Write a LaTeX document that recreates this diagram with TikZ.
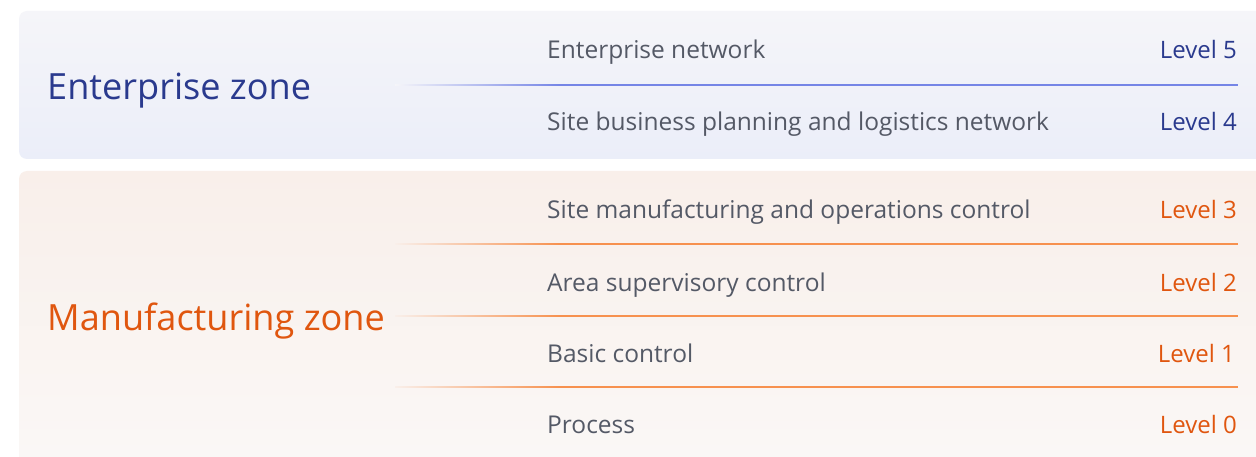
\documentclass[tikz,border=0pt]{standalone}
\usepackage{fontspec}
\setmainfont{Open Sans}
\usetikzlibrary{positioning}
\definecolor{entbgA}{HTML}{EBEEF9}
\definecolor{entbgB}{HTML}{F5F5F9}
\definecolor{manbgA}{HTML}{FAF8F7}
\definecolor{manbgB}{HTML}{F9EFEA}
\definecolor{entblue}{HTML}{2A3A8E}
\definecolor{manorange}{HTML}{E0560F}
\definecolor{rowgray}{HTML}{545966}
\definecolor{entline}{HTML}{7585E6}
\definecolor{manline}{HTML}{F7914F}
\tikzset{
  zonelabel/.style={anchor=base west,inner sep=0pt,font=\fontsize{36.1}{40}\selectfont},
  rowlabel/.style={anchor=base west,inner sep=0pt,text=rowgray,font=\fontsize{24.5}{28}\selectfont},
  levellabel/.style={anchor=base east,inner sep=0pt,font=\fontsize{24}{28}\selectfont},
}
\begin{document}
\begin{tikzpicture}[x=1pt,y=-1pt]
\useasboundingbox (0,0) rectangle (1256,457);
\clip (0,0) rectangle (1256,457);
\fill[white] (0,0) rectangle (1256,457);
% boxes
\shade[rounded corners=8pt, shading angle=200, top color=entbgB, bottom color=entbgA] (19,11) rectangle (1275,159);
\shade[rounded corners=8pt, shading angle=200, top color=manbgB, bottom color=manbgA] (19,171) rectangle (1275,480);
% zone labels
\node[zonelabel,text=entblue] (ent) at (47,99.5) {Enterprise zone};
\node[zonelabel,text=manorange] (man) at (47,330) {Manufacturing zone};
% dividers
\shade[left color=entbgB, right color=entline] (395,84.3) rectangle (560,85.7);
\fill[entline] (560,84.3) rectangle (1238,85.7);
\foreach \yy in {244,316,387}{
  \shade[left color=manbgB, right color=manline] (395,\yy-0.7) rectangle (560,\yy+0.7);
  \fill[manline] (560,\yy-0.7) rectangle (1238,\yy+0.7);
}
% rows
\node[rowlabel] (r5) at (547,59) {Enterprise network};
\node[rowlabel] (r4) at (547,131) {Site business planning and logistics network};
\node[rowlabel] (r3) at (547,219) {Site manufacturing and operations control};
\node[rowlabel] (r2) at (547,291) {Area supervisory control};
\node[rowlabel] (r1) at (547,362) {Basic control};
\node[rowlabel] (r0) at (547,433) {Process};
\node[levellabel,text=entblue] (l5) at (1237,59) {Level 5};
\node[levellabel,text=entblue] (l4) at (1237,131) {Level 4};
\node[levellabel,text=manorange] (l3) at (1237,219) {Level 3};
\node[levellabel,text=manorange] (l2) at (1237,291) {Level 2};
\node[levellabel,text=manorange] (l1) at (1235,362) {Level 1};
\node[levellabel,text=manorange] (l0) at (1237,433) {Level 0};
\end{tikzpicture}
\end{document}
